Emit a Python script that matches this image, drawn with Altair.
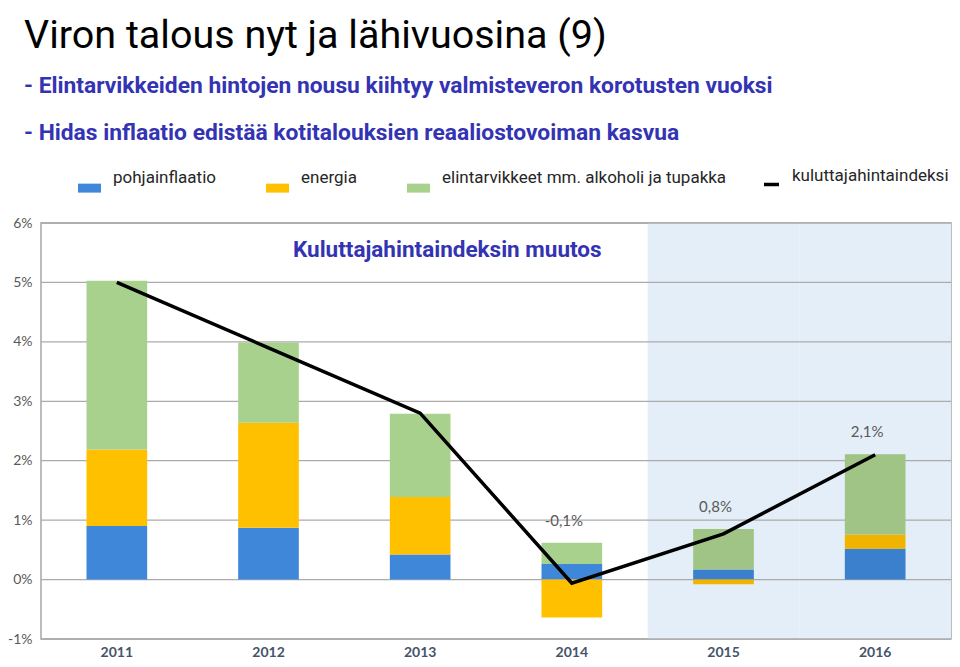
import altair as alt
import pandas as pd

years = ["2011", "2012", "2013", "2014", "2015", "2016"]
core = [0.90, 0.87, 0.42, 0.26, 0.17, 0.52]
energy = [1.29, 1.77, 0.97, -0.64, -0.08, 0.24]
food = [2.84, 1.35, 1.40, 0.36, 0.68, 1.35]
cpi = [5.0, 3.9, 2.8, -0.06, 0.77, 2.1]
cpi_labels = ["", "", "", "-0,1%", "0,8%", "2,1%"]
forecast_years = ["2015", "2016"]
series = ["pohjainflaatio", "energia", "elintarvikkeet mm. alkoholi ja tupakka"]
line_name = "kuluttajahintaindeksi"
colors = ["#3F88D9", "#FFC000", "#A9D18E"]
y_ticks = [-1, 0, 1, 2, 3, 4, 5, 6]

TITLE_FONT = "Roboto"
LABEL_FONT = "Lato, Open Sans, sans-serif"
BLUE_TEXT = "#3333B3"

rows = []
for i, y in enumerate(years):
    for k, (name, vals) in enumerate(zip(series, [core, energy, food])):
        rows.append({"year": y, "series": name, "value": vals[i], "order": k})
bars_df = pd.DataFrame(rows)
forecast_bars_df = bars_df[bars_df["year"].isin(forecast_years)]

line_df = pd.DataFrame({
    "year": years,
    "cpi": cpi,
    "name": [line_name] * len(years),
    "label": cpi_labels,
    "top": [sum(max(v, 0) for v in (core[i], energy[i], food[i])) for i in range(len(years))],
})
shade_df = pd.DataFrame({"year": forecast_years})
grid_df = pd.DataFrame({"v": y_ticks})

xscale = alt.Scale(domain=years, paddingInner=0, paddingOuter=0)
yscale = alt.Scale(domain=[-1, 6], nice=False)

x_axis = alt.Axis(title=None, labelFont=LABEL_FONT, labelFontSize=14, labelFontWeight="bold",
                  labelColor="#44546A", labelPadding=6, ticks=False, domain=False, grid=False,
                  labelAngle=0)
y_axis = alt.Axis(title=None, values=y_ticks, labelExpr="datum.value + '%'", labelFont=LABEL_FONT,
                  labelFontSize=14, labelColor="#595959", labelPadding=9, ticks=False,
                  domain=False, grid=False)

shade = alt.Chart(shade_df).mark_rect(color="#E4EEF8").encode(
    x=alt.X("year:N", scale=xscale, axis=x_axis),
    y=alt.datum(6, scale=yscale, axis=y_axis),
    y2=alt.datum(-1),
)

grid = alt.Chart(grid_df).mark_rule(color="#ABABAB", strokeWidth=1.3).encode(
    y=alt.Y("v:Q", scale=yscale, axis=y_axis),
)

bars = alt.Chart(bars_df).mark_bar(width=alt.RelativeBandSize(0.4)).encode(
    x=alt.X("year:N", scale=xscale, axis=x_axis),
    y=alt.Y("sum(value):Q", scale=yscale, axis=y_axis),
    color=alt.Color("series:N", scale=alt.Scale(domain=series, range=colors),
                    legend=alt.Legend(title=None, orient="none", legendX=37, legendY=-57,
                                      direction="horizontal", columns=3, columnPadding=50,
                                      symbolType="M-1,0.5H1V1.28H-1Z", symbolSize=529,
                                      symbolStrokeWidth=0, labelOffset=12, labelLimit=0,
                                      labelFont=TITLE_FONT, labelFontSize=17,
                                      labelColor="#262626", padding=0)),
    order=alt.Order("order:Q"),
)

# slightly deeper tone of the forecast-period bars
forecast_tint = alt.Chart(forecast_bars_df).mark_bar(
    width=alt.RelativeBandSize(0.4), color="black", opacity=0.06
).encode(
    x=alt.X("year:N", scale=xscale, axis=x_axis),
    y=alt.Y("sum(value):Q", scale=yscale, axis=y_axis),
    detail="series:N",
    order=alt.Order("order:Q"),
)

line = alt.Chart(line_df).mark_line(color="black", strokeWidth=3.5).encode(
    x=alt.X("year:N", scale=xscale, axis=x_axis),
    y=alt.Y("cpi:Q", scale=yscale, axis=y_axis),
    color=alt.Color("name:N", scale=alt.Scale(domain=[line_name], range=["#000000"]),
                    legend=alt.Legend(title=None, orient="none", legendX=721, legendY=-57,
                                      symbolType="M-1,1.2H1", symbolSize=225,
                                      symbolStrokeWidth=3.5, labelOffset=11, labelLimit=0,
                                      labelFont=TITLE_FONT, labelFontSize=17,
                                      labelColor="#262626", padding=0)),
)

labels = alt.Chart(line_df).mark_text(dx=-8, dy=-22, fontSize=15, color="#595959",
                                      font=LABEL_FONT).encode(
    x=alt.X("year:N", scale=xscale, axis=x_axis),
    y=alt.Y("top:Q", scale=yscale, axis=y_axis),
    text="label:N",
)

annot = alt.Chart(pd.DataFrame({"t": ["Kuluttajahintaindeksin muutos"]})).mark_text(
    align="left", baseline="middle", fontSize=22.5, fontWeight="bold", color=BLUE_TEXT,
    font=TITLE_FONT,
).encode(x=alt.value(252), y=alt.value(27), text="t:N")

chart = alt.layer(shade, grid, bars, forecast_tint, line, labels, annot).resolve_scale(
    color="independent"
).properties(
    width=910, height=416,
    padding={"left": 33, "top": 215, "right": 1, "bottom": 20},
    autosize=alt.AutoSizeParams(type="none"),
    title=alt.TitleParams(
        text="Viron talous nyt ja lähivuosina (9)",
        subtitle=["- Elintarvikkeiden hintojen nousu kiihtyy valmisteveron korotusten vuoksi",
                  "- Hidas inflaatio edistää kotitalouksien reaaliostovoiman kasvua"],
        anchor="start", frame="group", dx=-17, offset=20,
        font=TITLE_FONT, fontSize=39.5, fontWeight="normal", color="#000000",
        subtitleFont=TITLE_FONT, subtitleFontSize=22.8, subtitleFontWeight="bold",
        subtitleColor=BLUE_TEXT, subtitleLineHeight=47, subtitlePadding=19,
    ),
).configure_view(stroke="#A6A6A6", strokeWidth=1.5)

chart.save("out.html", embed_options={"renderer": "svg", "actions": False})
